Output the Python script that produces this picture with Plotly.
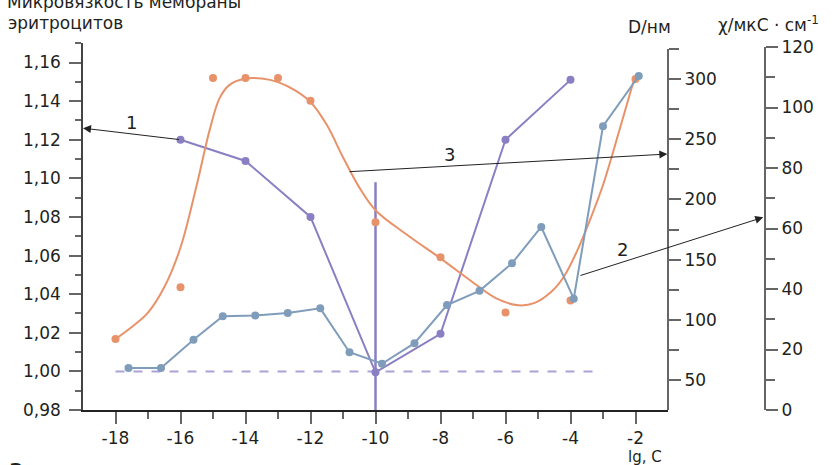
import plotly.graph_objects as go

# ---------------- data ----------------
# curve 1: membrane microviscosity (left axis)
purple_x = [-16, -14, -12, -10, -8, -6, -4]
purple_y = [1.120, 1.109, 1.080, 0.9995, 1.0195, 1.120, 1.151]

# curve 2: conductivity chi (right axis, mkS/cm)
blue_x = [-17.6, -16.6, -15.6, -14.7, -13.7, -12.7, -11.7, -10.8, -9.8, -8.8,
          -7.8, -6.8, -5.8, -4.9, -3.9, -3.0, -1.9]
blue_chi = [13.9, 13.9, 23.2, 31.0, 31.2, 32.1, 33.6, 19.1, 15.3, 22.1,
            34.7, 39.4, 48.5, 60.5, 36.8, 93.8, 110.4]

# curve 3: particle size D (nm) measured points
orange_x = [-18, -16, -15, -14, -13, -12, -10, -8, -6, -4, -2]
orange_d = [84, 127, 301, 301, 301, 282, 181, 152, 106, 116, 300]

# curve 3: smooth trend line
curve_x = [-18, -17.5, -17.0, -16.5, -16.0, -15.5, -15.1, -14.8, -14.5, -14.0,
           -13.5, -13.0, -12.5, -12.0, -11.5, -11.0, -10.5, -10.0, -9.0, -8.0,
           -7.0, -6.3, -5.6, -5.1, -4.6, -4.2, -3.8, -3.4, -3.0, -2.5, -2.04]
curve_d = [84, 94, 106, 127, 160, 212, 258, 284, 295, 300.5,
           300.5, 297.5, 291, 281, 262, 235, 210, 191, 170, 151,
           131, 118, 112, 114, 123, 136, 157, 183, 212, 257, 300]

# reference lines
vline_x = [-10, -10]
vline_y = [0.98, 1.098]
base_x = [-18, -3.1]
base_y = [1.0, 1.0]

# ticks
x_tickvals = [-18, -16, -14, -12, -10, -8, -6, -4, -2]
x_ticktext = ["-18", "-16", "-14", "-12", "-10", "-8", "-6", "-4", "-2"]
x_minor = [-17, -15, -13, -11, -9, -7, -5, -3]
y_tickvals = [0.98, 1.00, 1.02, 1.04, 1.06, 1.08, 1.10, 1.12, 1.14, 1.16]
y_ticktext = ["0,98", "1,00", "1,02", "1,04", "1,06", "1,08", "1,10", "1,12", "1,14", "1,16"]
y_minor = [0.99, 1.01, 1.03, 1.05, 1.07, 1.09, 1.11, 1.13, 1.15, 1.17]
d_tickvals = [50, 100, 150, 200, 250, 300]
d_minor = [75, 125, 175, 225, 275, 325]
chi_tickvals = [0, 20, 40, 60, 80, 100, 120]
chi_minor = [10, 30, 50, 70, 90, 110]

# ---------------- layout geometry ----------------
W, H = 837, 465
L, R, T, B = 83, 72, 43, 55
PW, PH = W - L - R, H - T - B
BOTTOM = H - B


def px(xp):
    return (xp - L) / PW


def py(yp):
    return (BOTTOM - yp) / PH


FONT = "DejaVu Sans, Liberation Sans, Arial, sans-serif"
TXT = "#231f20"
PURPLE = "#8a7fc2"
BLUE = "#7f9dbb"
ORANGE = "#e8926a"
DASH = "#aaa2d8"
AX = "#666666"

fig = go.Figure()

fig.add_trace(go.Scatter(x=base_x, y=base_y, mode="lines", xaxis="x", yaxis="y",
                         line=dict(color=DASH, width=2, dash="dash"), hoverinfo="skip"))
fig.add_trace(go.Scatter(x=purple_x, y=purple_y, mode="lines+markers", xaxis="x", yaxis="y",
                         line=dict(color=PURPLE, width=2), marker=dict(color=PURPLE, size=8)))
fig.add_trace(go.Scatter(x=vline_x, y=vline_y, mode="lines", xaxis="x", yaxis="y",
                         line=dict(color=PURPLE, width=2.5), hoverinfo="skip"))
fig.add_trace(go.Scatter(x=curve_x, y=curve_d, mode="lines", xaxis="x", yaxis="y2",
                         line=dict(color=ORANGE, width=2, shape="spline", smoothing=1.0)))
fig.add_trace(go.Scatter(x=orange_x, y=orange_d, mode="markers", xaxis="x", yaxis="y2",
                         marker=dict(color=ORANGE, size=8)))
fig.add_trace(go.Scatter(x=blue_x, y=blue_chi, mode="lines+markers", xaxis="x", yaxis="y3",
                         line=dict(color=BLUE, width=2), marker=dict(color=BLUE, size=8)))

tickfont = dict(family=FONT, size=17, color=TXT)

fig.update_layout(
    width=W, height=H,
    margin=dict(l=L, r=R, t=T, b=B, pad=0),
    paper_bgcolor="white", plot_bgcolor="rgba(0,0,0,0)",
    showlegend=False,
    font=dict(family=FONT, size=17, color=TXT),
    xaxis=dict(domain=[0, px(668)], range=[-19, -1], showgrid=False, zeroline=False,
               showline=True, linecolor="#222222", linewidth=1.5,
               tickmode="array", tickvals=x_tickvals, ticktext=x_ticktext,
               ticks="outside", ticklen=12, tickwidth=1.5, tickcolor=AX, tickfont=tickfont,
               minor=dict(tickmode="array", tickvals=x_minor, ticks="outside",
                          ticklen=7, tickwidth=1.5, tickcolor=AX)),
    yaxis=dict(domain=[0, 1], range=[0.98, 1.1701], showgrid=False, zeroline=False,
               showline=True, linecolor="#444444", linewidth=1.5,
               tickmode="array", tickvals=y_tickvals, ticktext=y_ticktext,
               ticks="outside", ticklen=12, tickwidth=1.5, tickcolor=AX, tickfont=tickfont,
               ticklabelstandoff=5,
               minor=dict(tickmode="array", tickvals=y_minor, ticks="outside",
                          ticklen=6, tickwidth=1.5, tickcolor=AX)),
    yaxis2=dict(domain=[0, py(49)], range=[25, 325], anchor="free", position=px(668),
                side="right", showgrid=False, zeroline=False,
                showline=True, linecolor=AX, linewidth=2,
                tickmode="array", tickvals=d_tickvals,
                ticks="outside", ticklen=12, tickwidth=1.5, tickcolor=AX, tickfont=tickfont,
                minor=dict(tickmode="array", tickvals=d_minor, ticks="outside",
                           ticklen=10, tickwidth=1.5, tickcolor=AX)),
    yaxis3=dict(domain=[0, py(47)], range=[0, 120], anchor="free", position=1.0,
                side="right", showgrid=False, zeroline=False,
                showline=True, linecolor=AX, linewidth=2,
                tickmode="array", tickvals=chi_tickvals,
                ticks="outside", ticklen=12, tickwidth=1.5, tickcolor=AX, tickfont=tickfont,
                minor=dict(tickmode="array", tickvals=chi_minor, ticks="outside",
                           ticklen=9, tickwidth=1.5, tickcolor=AX)),
)

anns = []
# axis titles
anns.append(dict(text="Микровязкость мембраны", xref="paper", yref="paper",
                 x=px(5), y=py(2), xanchor="left", yanchor="middle", showarrow=False,
                 font=dict(family=FONT, size=17, color=TXT)))
anns.append(dict(text="эритроцитов", xref="paper", yref="paper",
                 x=px(6), y=py(23), xanchor="left", yanchor="middle", showarrow=False,
                 font=dict(family=FONT, size=17, color=TXT)))
anns.append(dict(text="D/нм", xref="paper", yref="paper",
                 x=px(649), y=py(27), xanchor="center", yanchor="middle", showarrow=False,
                 font=dict(family=FONT, size=17, color=TXT)))
anns.append(dict(text="χ/мкС · см<sup>-1</sup>", xref="paper", yref="paper",
                 x=px(716), y=py(24), xanchor="left", yanchor="middle", showarrow=False,
                 font=dict(family=FONT, size=17, color=TXT)))
anns.append(dict(text="lg, C", xref="paper", yref="paper",
                 x=px(645), y=py(456.5), xanchor="center", yanchor="middle", showarrow=False,
                 font=dict(family=FONT, size=15, color=TXT)))
anns.append(dict(text="<b>3</b>", xref="paper", yref="paper",
                 x=px(16), y=py(470), xanchor="center", yanchor="middle", showarrow=False,
                 font=dict(family=FONT, size=20, color=TXT)))

# curve labels
anns.append(dict(text="1", xref="x", yref="y", x=-17.5, y=1.1291, showarrow=False,
                 font=dict(family=FONT, size=18, color=TXT)))
anns.append(dict(text="3", xref="x", yref="y2", x=-7.71, y=237, showarrow=False,
                 font=dict(family=FONT, size=18, color=TXT)))
anns.append(dict(text="2", xref="x", yref="y3", x=-2.41, y=53.1, showarrow=False,
                 font=dict(family=FONT, size=18, color=TXT)))

# leader arrows
arrow_style = dict(text="", showarrow=True, arrowhead=2, arrowsize=1.6, arrowwidth=1,
                   arrowcolor="#222222", standoff=0, startstandoff=0)
anns.append(dict(xref="x", yref="y", axref="x", ayref="y",
                 x=-19, y=1.126, ax=-16, ay=1.12, **arrow_style))
anns.append(dict(xref="x", yref="y2", axref="x", ayref="y2",
                 x=-1.02, y=237.7, ax=-10.84, ay=223.0, **arrow_style))
anns.append(dict(xref="x", yref="y3", axref="x", ayref="y3",
                 x=1.93, y=63.7, ax=-3.74, ay=44.3, **arrow_style))

fig.update_layout(annotations=anns)

fig.write_html("out.html")
